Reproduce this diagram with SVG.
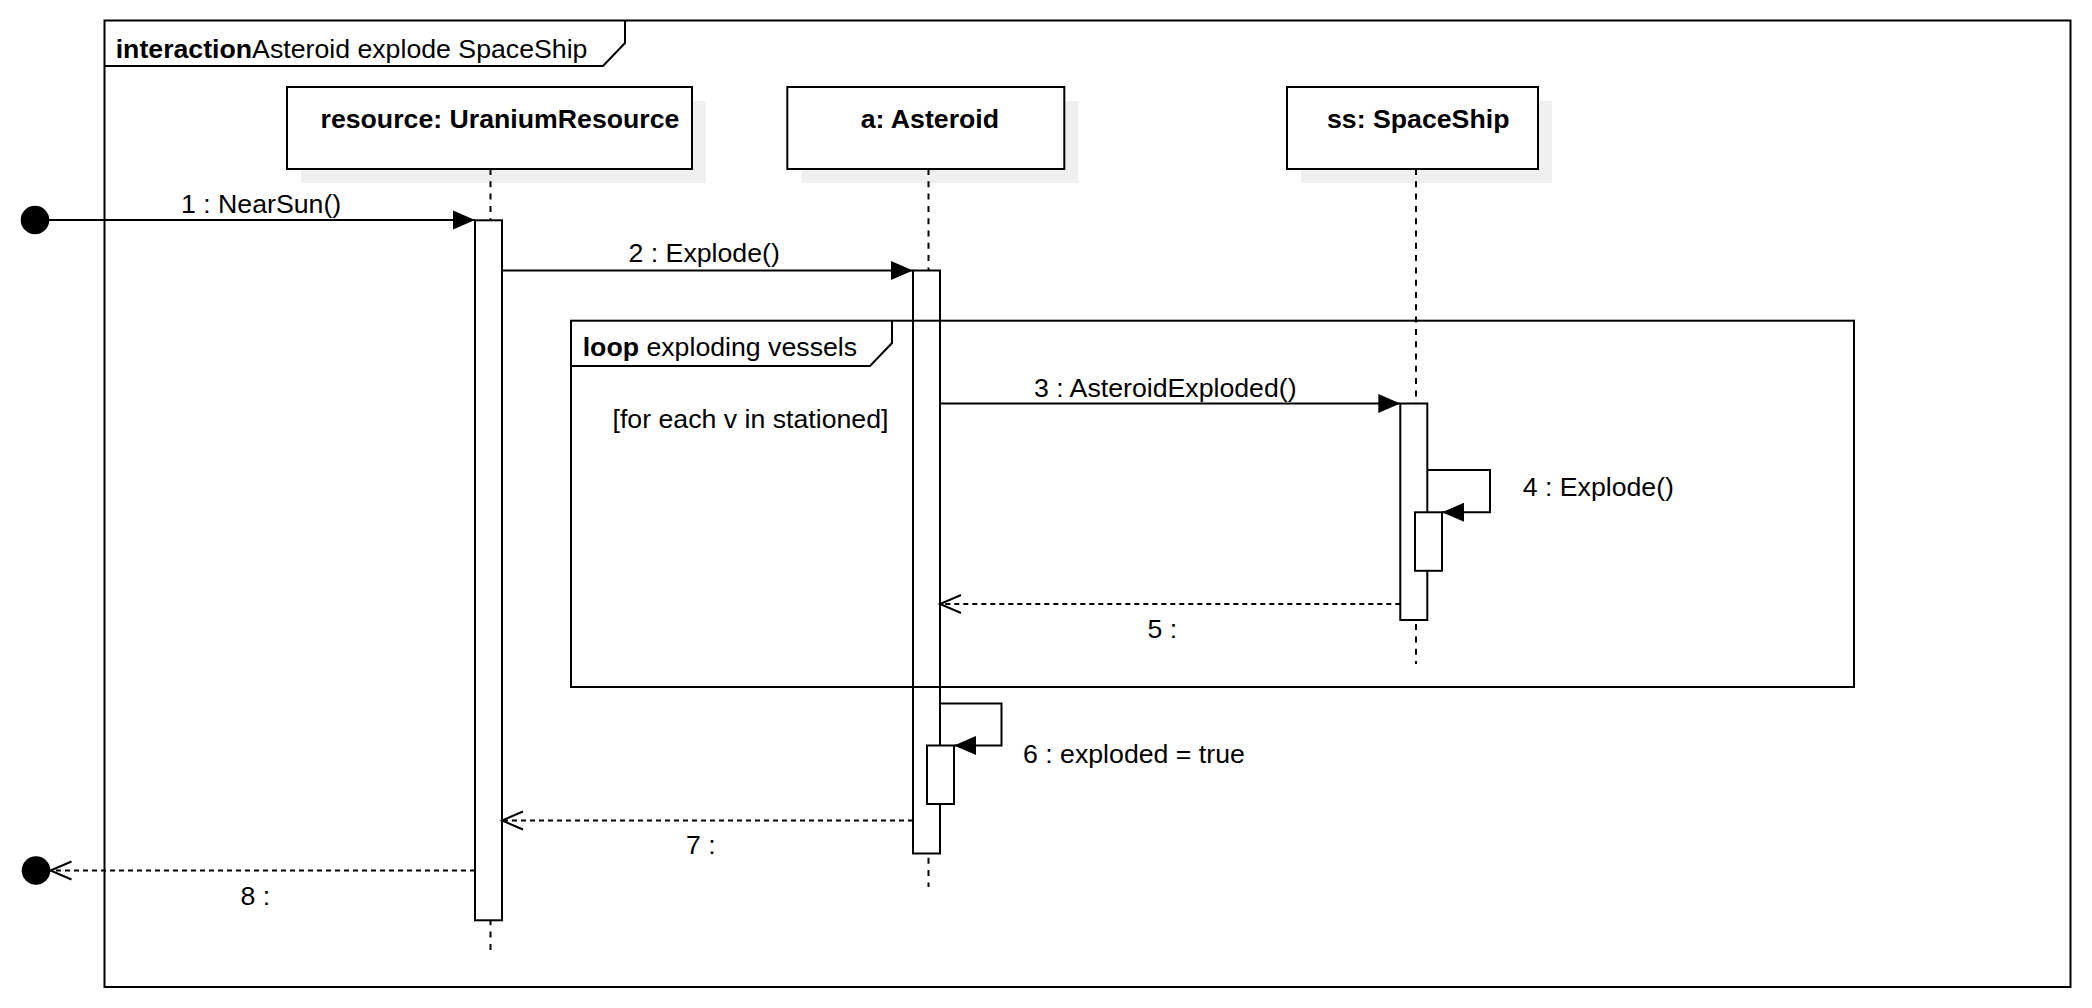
<svg xmlns="http://www.w3.org/2000/svg" width="2092" height="1008" viewBox="0 0 2092 1008">
<defs>
<style>
text{font-family:"Liberation Sans",Arial,sans-serif;font-size:26.7px;fill:#000}
.b{font-weight:bold}
.ln{fill:none;stroke:#000;stroke-width:2}
.box{fill:#fff;stroke:#000;stroke-width:2}
.shadow{fill:#efefef;stroke:none}
.life{fill:none;stroke:#000;stroke-width:2;stroke-dasharray:6 6.3}
.act{fill:#fff;stroke:#000;stroke-width:2}
.msg{fill:none;stroke:#000;stroke-width:2;marker-end:url(#filled)}
.ret{fill:none;stroke:#000;stroke-width:2;stroke-dasharray:5 4;marker-end:url(#open)}
</style>
<marker id="filled" markerUnits="userSpaceOnUse" markerWidth="23" markerHeight="20" refX="22" refY="9.5" orient="auto" overflow="visible">
<path d="M0,0 L22,9.5 L0,19 z" fill="#000"/>
</marker>
<marker id="open" markerUnits="userSpaceOnUse" markerWidth="23" markerHeight="20" refX="21" refY="9" orient="auto" overflow="visible">
<path d="M0,0 L21,9 L0,18" fill="none" stroke="#000" stroke-width="2"/>
</marker>
</defs>
<rect width="2092" height="1008" fill="#fff"/>

<g id="frame">
<rect x="104.5" y="20.5" width="1966" height="966.5" class="ln"/>
<path d="M104.5,66 H603 L625,43 V20.5" class="ln"/>
<text x="115.7" y="58"><tspan class="b">interaction</tspan>Asteroid explode SpaceShip</text>
</g>

<g id="lifelines">
<line x1="490.5" y1="169" x2="490.5" y2="952" class="life"/>
<line x1="928.5" y1="169" x2="928.5" y2="887" class="life"/>
<line x1="1416" y1="169" x2="1416" y2="664" class="life"/>
</g>

<g id="resource">
<rect x="301" y="101" width="405" height="82" class="shadow"/>
<rect x="287" y="87" width="405" height="82" class="box"/>
<line x1="490.5" y1="169" x2="490.5" y2="183" class="life"/>
<text x="320.5" y="128" class="b">resource: UraniumResource</text>
</g>

<g id="asteroid">
<rect x="801.3" y="101" width="277" height="82" class="shadow"/>
<rect x="787.3" y="87" width="277" height="82" class="box"/>
<line x1="928.5" y1="169" x2="928.5" y2="183" class="life"/>
<text x="860.7" y="128" class="b">a: Asteroid</text>
</g>

<g id="spaceship">
<rect x="1301" y="101" width="251" height="82" class="shadow"/>
<rect x="1287" y="87" width="251" height="82" class="box"/>
<line x1="1416" y1="169" x2="1416" y2="183" class="life"/>
<text x="1327" y="128" class="b">ss: SpaceShip</text>
</g>

<g id="activations">
<rect x="475" y="220.3" width="27" height="700" class="act"/>
<rect x="913" y="270.5" width="27" height="583" class="act"/>
<rect x="927" y="745.5" width="27" height="58.5" class="act"/>
<rect x="1400.3" y="403.5" width="27" height="216.5" class="act"/>
<rect x="1415" y="512.3" width="27" height="58.5" class="act"/>
</g>

<g id="loop">
<rect x="571" y="320.7" width="1283" height="366.3" class="ln"/>
<path d="M571,366 H870 L892,343 V320.7" class="ln"/>
<text x="582.7" y="355.7"><tspan class="b">loop</tspan> exploding vessels</text>
<text x="612.5" y="428">[for each v in stationed]</text>
</g>

<g id="connectors">
<line x1="35" y1="220" x2="475" y2="220" class="msg"/>
<line x1="502" y1="270.5" x2="913" y2="270.5" class="msg"/>
<line x1="940" y1="403.5" x2="1400.3" y2="403.5" class="msg"/>
<path d="M1427.3,470 H1490 V512.3 H1442" class="msg"/>
<line x1="1400.3" y1="604" x2="940" y2="604" class="ret"/>
<path d="M940,703.5 H1001.5 V745.5 H954" class="msg"/>
<line x1="913" y1="820.5" x2="502" y2="820.5" class="ret"/>
<line x1="475" y1="870.5" x2="50.5" y2="870.5" class="ret"/>
<circle cx="35" cy="220" r="14.3" fill="#000"/>
<circle cx="36" cy="870.5" r="14.3" fill="#000"/>
<text x="181" y="213">1 : NearSun()</text>
<text x="628.5" y="262">2 : Explode()</text>
<text x="1034" y="396.5">3 : AsteroidExploded()</text>
<text x="1522.7" y="496">4 : Explode()</text>
<text x="1147.5" y="637.5">5 :</text>
<text x="1023" y="763">6 : exploded = true</text>
<text x="686" y="854">7 :</text>
<text x="240.5" y="905">8 :</text>
</g>
</svg>
